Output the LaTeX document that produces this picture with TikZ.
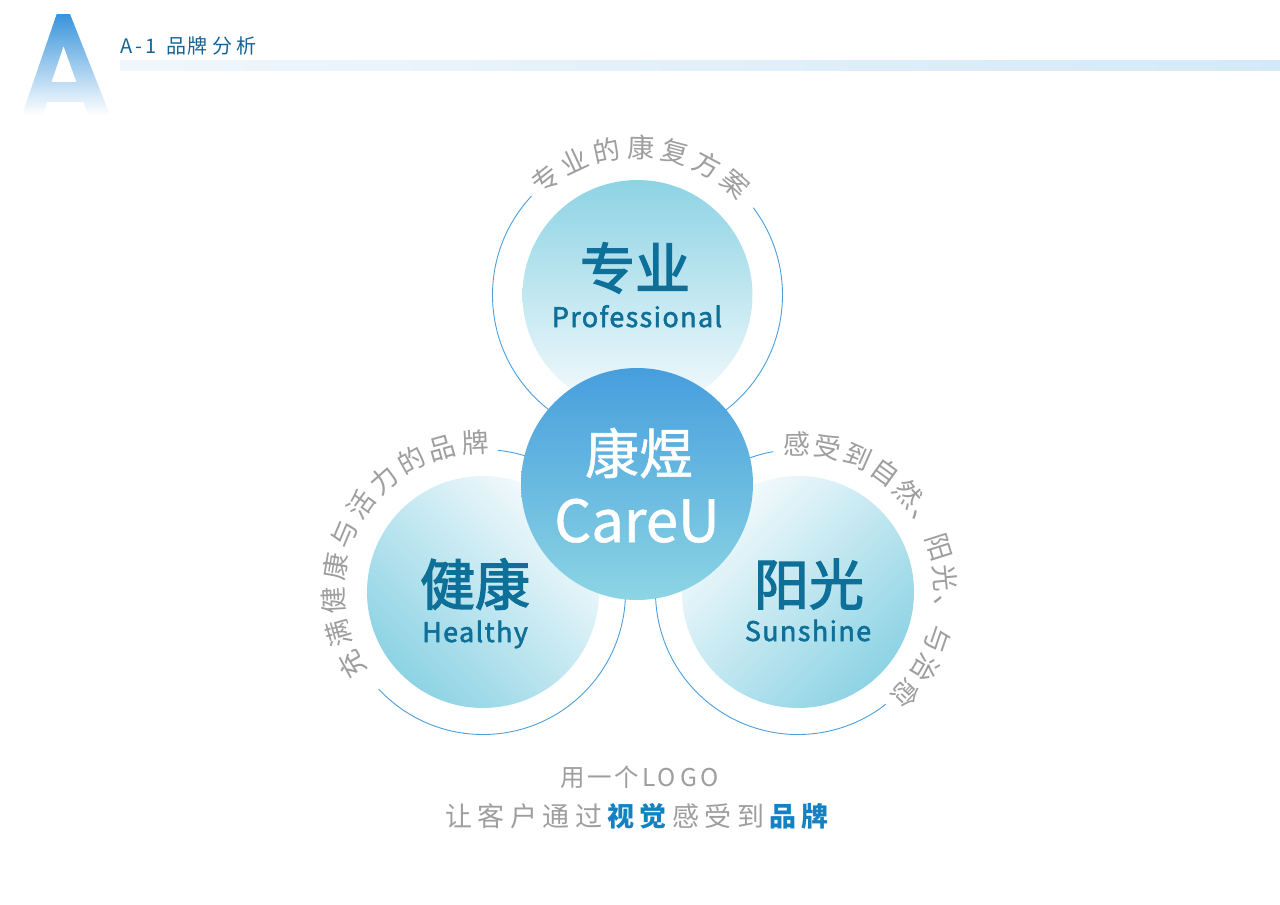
\documentclass[tikz,border=0pt]{standalone}
\usepackage{fontspec}
\setmainfont{Noto Sans CJK SC}
\newfontfamily\medfont[FakeBold=2.5]{Noto Sans CJK SC}
\newfontfamily\medsp[FakeBold=2, LetterSpace=5]{Noto Sans CJK SC}
\newfontfamily\semifont[FakeBold=1]{Noto Sans CJK SC}
\usetikzlibrary{calc}
\definecolor{ringc}{RGB}{74,160,222}
\definecolor{darkteal}{RGB}{14,112,152}
\definecolor{cyanf}{RGB}{141,211,228}
\definecolor{blueT}{RGB}{70,158,221}
\definecolor{cyanC}{RGB}{140,213,228}
\definecolor{greyT}{RGB}{158,158,158}
\definecolor{titleC}{RGB}{22,100,150}
\definecolor{boldB}{RGB}{18,130,195}
\definecolor{bigA}{RGB}{56,148,220}
\definecolor{barL}{RGB}{240,247,252}
\definecolor{barR}{RGB}{212,233,247}
\definecolor{paleW}{RGB}{246,251,253}
\begin{document}
\begin{tikzpicture}[x=1pt,y=1pt,
  ringline/.style={draw=ringc, line width=0.9pt},
  arcch/.style={text=greyT, font=\fontsize{27}{27}\selectfont, inner sep=0pt, text height=23.8pt, text depth=3.2pt},
  bigcn/.style={text=darkteal, font=\medfont\fontsize{55}{55}\selectfont, inner sep=0pt},
  subEn/.style={text=darkteal, font=\medsp\fontsize{27}{27}\selectfont, inner sep=0pt, anchor=base},
  titch/.style={text=titleC, font=\fontsize{20}{20}\selectfont, inner sep=0pt, anchor=base},
  lowch/.style={text=greyT, font=\fontsize{24.5}{24.5}\selectfont, inner sep=0pt, anchor=base},
  botch/.style={text=greyT, font=\fontsize{27}{27}\selectfont, inner sep=0pt, text height=23.8pt, text depth=3.2pt},
  botbold/.style={text=boldB, font=\fontsize{27}{27}\selectfont\bfseries, inner sep=0pt, text height=23.8pt, text depth=3.2pt}]
\fill[white] (0,0) rectangle (1280,-905);
\useasboundingbox (0,0) rectangle (1280,-905);

% big letter A
\shade[top color=bigA, bottom color=white, even odd rule]
  (22,-115) -- (56.7,-14) -- (70,-14) -- (110,-115) -- (88,-115) -- (83.5,-102) -- (47,-102) -- (43,-115) -- cycle
  (63.5,-46) -- (76.5,-82) -- (51.5,-82) -- cycle;

% title and bar
\foreach \ch/\xx [count=\i] in {A/127,-/138.5,1/151,品/176,牌/197.5,分/222,析/246.5} {
  \node[titch] (ti\i) at (\xx,-53) {\ch};
}
\shade[left color=barL, right color=barR] (120,-60) rectangle (1280,-70);

% centres
\coordinate (T) at (637.5,-295);
\coordinate (L) at (483,-592);
\coordinate (R) at (798,-592);
\coordinate (C) at (637,-484);

% rings
\draw[ringline] (T) ++(137:145) arc[start angle=137, end angle=397, radius=145];
\draw[ringline] (L) ++(223:142.5) arc[start angle=223, end angle=444, radius=142.5];
\draw[ringline] (R) ++(100:142.5) arc[start angle=100, end angle=308, radius=142.5];

% circles
\shade[top color=cyanf, bottom color=paleW] (T) circle[radius=115];
\shade[top color=paleW, bottom color=cyanf, shading angle=-45] (L) circle[radius=116];
\shade[top color=paleW, bottom color=cyanf, shading angle=45] (R) circle[radius=116];
\shade[top color=blueT, bottom color=cyanC] (C) circle[radius=116];

% circle texts
\node[bigcn] (tcn) at (635,-268) {专业};
\node[subEn] (ten) at (637,-327) {Professional};
\node[bigcn] (lcn) at (475,-584) {健康};
\node[subEn] (len) at (475,-642) {Healthy};
\node[bigcn] (rcn) at (809,-584) {阳光};
\node[subEn] (ren) at (808,-641) {Sunshine};
\node[text=white, font=\semifont\fontsize{54}{54}\selectfont, inner sep=0pt] (ccn) at (639,-453) {康煜};
\node[text=white, font=\semifont\fontsize{58}{58}\selectfont, inner sep=0pt, anchor=base] (cen) at (637,-542) {CareU};

% curved texts
\foreach \ch [count=\i from 0] in {专,业,的,康,复,方,案} {
  \pgfmathsetmacro\ang{128.5-13.3*\i}
  \node[arcch, rotate=\ang-90] (ta\i) at ($(T)+(\ang:148)$) {\ch};
}
\foreach \ch [count=\i from 0] in {充,满,健,康,与,活,力,的,品,牌} {
  \pgfmathsetmacro\ang{209-12.9*\i}
  \node[arcch, rotate=\ang-90] (la\i) at ($(L)+(\ang:150)$) {\ch};
}
\foreach \ch [count=\i from 0] in {感,受,到,自,然,、,阳,光,、,与,治,愈} {
  \pgfmathsetmacro\ang{90.4-12.13*\i}
  \node[arcch, rotate=\ang-90] (ra\i) at ($(R)+(\ang:148)$) {\ch};
}

% bottom lines
\foreach \ch/\xx [count=\i] in {用/572.5,一/600,个/627,L/649.5,O/667,G/688.5,O/709.5} {
  \node[lowch] (b\i) at (\xx,-786) {\ch};
}
\foreach \ch [count=\i from 0] in {让,客,户,通,过} {
  \node[botch] (c\i) at (459+32.4*\i,-816.5) {\ch};
}
\foreach \ch [count=\i from 5] in {视,觉} {
  \node[botbold] (c\i) at (459+32.4*\i,-816.5) {\ch};
}
\foreach \ch [count=\i from 7] in {感,受,到} {
  \node[botch] (c\i) at (459+32.4*\i,-816.5) {\ch};
}
\foreach \ch [count=\i from 10] in {品,牌} {
  \node[botbold] (c\i) at (459+32.4*\i,-816.5) {\ch};
}
\end{tikzpicture}
\end{document}
